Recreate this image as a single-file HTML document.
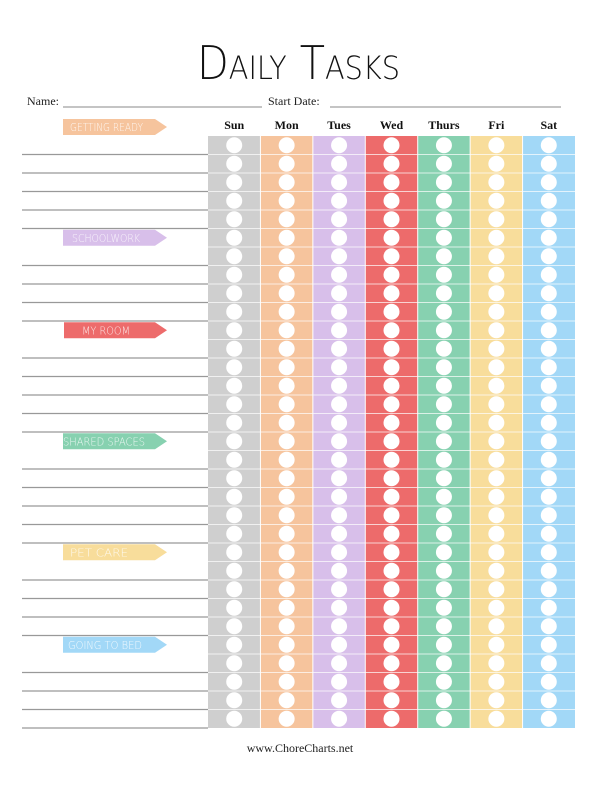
<!DOCTYPE html>
<html><head><meta charset="utf-8"><style>
body{margin:0;background:#fff;width:600px;height:783px;overflow:hidden;font-family:"Liberation Serif",serif}
</style></head><body>
<svg id="s" width="600" height="783">
<text x="197" y="79" font-family="DejaVu Sans, Liberation Sans, sans-serif" font-size="46" font-weight="200" textLength="203" lengthAdjust="spacingAndGlyphs" style="font-variant:small-caps" fill="#111">Daily Tasks</text>
<text x="27" y="105" font-size="12" fill="#222">Name:</text>
<line x1="63" y1="107" x2="262" y2="107" stroke="#888" stroke-width="1"/>
<text x="268" y="105" font-size="12" fill="#222">Start Date:</text>
<line x1="330" y1="107" x2="561" y2="107" stroke="#888" stroke-width="1"/>
<text x="300" y="752" font-size="12" fill="#222" text-anchor="middle">www.ChoreCharts.net</text>
</svg>
<script>
const days=['Sun','Mon','Tues','Wed','Thurs','Fri','Sat'];
const dayColors=['#cfcfcf','#f6c49d','#d8bfea','#ed6b6b','#87d1b0','#f8dd9b','#a2d8f7'];
const sections=['GETTING READY','SCHOOLWORK','MY ROOM','SHARED SPACES','PET CARE','GOING TO BED'];
const sectionRows=[-1,5,10,16,22,27];
const sectionColors=['#f6c49d','#d8bfea','#ed6b6b','#87d1b0','#f8dd9b','#a2d8f7'];
const labelX=[70,72,82,63,70,68];
const labelW=[73,68,48,82,58,74];
const totalRows=32;
const NS='http://www.w3.org/2000/svg';
const s=document.getElementById('s');
const gx=208,gw=367,gy=136,rh=18.5,cw=gw/7;
function el(t,a){const e=document.createElementNS(NS,t);for(const k in a)e.setAttribute(k,a[k]);s.appendChild(e);return e;}
days.forEach((d,i)=>{
  const x=gx+i*cw;
  const r=el('rect',{x:x,y:gy,width:cw,height:rh*totalRows,fill:dayColors[i]});
  
  
  const t=el('text',{x:x+cw/2,y:129,'text-anchor':'middle','font-size':12,'font-weight':'bold',fill:'#111'});
  t.textContent=d;
  
  
  for(let r2=0;r2<totalRows;r2++){
    const c=el('circle',{cx:x+cw/2,cy:gy+r2*rh+rh/2,r:8,fill:'#fff'});
    
    
  }
});
for(let i=1;i<7;i++){const l=el('line',{x1:gx+i*cw,y1:gy,x2:gx+i*cw,y2:gy+rh*totalRows,stroke:'#fff','stroke-width':1});
  }
for(let r=1;r<totalRows;r++){const l=el('line',{x1:gx,y1:gy+r*rh,x2:gx+gw,y2:gy+r*rh,stroke:'#fff','stroke-width':1,opacity:0.7});
  }
for(let r=0;r<totalRows;r++){
  if(sectionRows.includes(r))continue;
  const y=gy+(r+1)*rh;
  const l=el('line',{x1:22,y1:y,x2:208,y2:y,stroke:'#999','stroke-width':1.2});
  
  
}
sections.forEach((n,i)=>{
  const yc=sectionRows[i]<0?127:gy+sectionRows[i]*rh+rh/2;
  const x0=i==2?64:63,x1=155;
  const p=el('polygon',{points:`${x0},${yc-8} ${x1},${yc-8} ${x1+12},${yc} ${x1},${yc+8} ${x0},${yc+8}`,fill:sectionColors[i]});
  
  
  const t=el('text',{x:labelX[i],y:yc+4,'font-family':'DejaVu Sans, Liberation Sans, sans-serif','font-weight':'200','font-size':10.5,fill:'#fff','fill-opacity':0.85,textLength:labelW[i],lengthAdjust:'spacingAndGlyphs'});
  t.textContent=n;
  
  
});
</script>
</body></html>
